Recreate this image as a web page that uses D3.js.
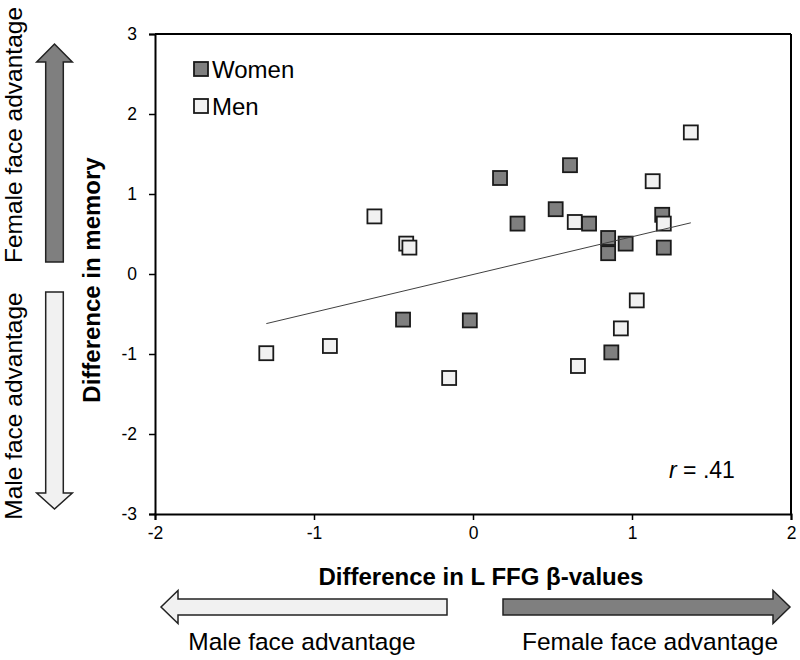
<!DOCTYPE html>
<html>
<head>
<meta charset="utf-8">
<script src="https://cdn.jsdelivr.net/npm/d3@7"></script>
<style>
  html, body { margin: 0; padding: 0; background: #fff; }
  text { font-family: "Liberation Sans", Arial, sans-serif; fill: #000; }
</style>
</head>
<body>
<svg id="chart" width="800" height="660"></svg>
<script>
// ---- data ----
const womenX = [0.17, 0.61, 0.28, 0.52, 0.73, 0.85, 0.85, 0.96, 1.19, 1.20, 0.87, -0.02, -0.44];
const womenY = [1.20, 1.36, 0.63, 0.81, 0.63, 0.45, 0.26, 0.38, 0.74, 0.33, -0.98, -0.58, -0.57];
const menX = [0.64, 1.20, 1.13, 1.37, 1.03, 0.93, 0.66, -1.30, -0.90, -0.15, -0.62, -0.42, -0.40];
const menY = [0.65, 0.63, 1.16, 1.77, -0.33, -0.68, -1.15, -0.99, -0.90, -1.30, 0.72, 0.38, 0.33];
const trendX = [-1.30, 1.37];
const trendY = [-0.62, 0.64];
const xTicks = [-2, -1, 0, 1, 2];
const yTicks = [-3, -2, -1, 0, 1, 2, 3];
const seriesNames = ["Women", "Men"];
const seriesFill = ["#7f7f7f", "#f1f1f1"];
const xTitle = "Difference in L FFG β-values";
const yTitle = "Difference in memory";
const statText = ".41";

// ---- layout ----
const svg = d3.select("#chart");
svg.append("rect").attr("width", 800).attr("height", 660).attr("fill", "#fff");
const L = 155, R = 791, T = 34, B = 514;
const x = d3.scaleLinear().domain([-2, 2]).range([L, R]);
const y = d3.scaleLinear().domain([-3, 3]).range([B, T]);

// frame top/right
svg.append("line").attr("x1", L).attr("x2", R).attr("y1", T).attr("y2", T)
  .attr("stroke", "#000").attr("stroke-width", 2);
svg.append("line").attr("x1", R).attr("x2", R).attr("y1", T).attr("y2", B)
  .attr("stroke", "#000").attr("stroke-width", 2);

// axes
const yAxis = svg.append("g").attr("transform", `translate(${L},0)`)
  .call(d3.axisLeft(y).tickValues(yTicks).tickSize(6).tickPadding(12).tickFormat(d3.format("d")));
const xAxis = svg.append("g").attr("transform", `translate(0,${B})`)
  .call(d3.axisBottom(x).tickValues(xTicks).tickSize(6).tickPadding(7).tickFormat(d3.format("d")));
[xAxis, yAxis].forEach(g => {
  g.select(".domain").attr("stroke", "#000").attr("stroke-width", 2);
  g.selectAll(".tick line").attr("stroke", "#000").attr("stroke-width", 1.5);
  g.selectAll(".tick text").attr("font-size", 17.5).attr("fill", "#000")
    .attr("font-family", '"Liberation Sans", Arial, sans-serif');
});
yAxis.selectAll(".tick text").text(d => d < 0 ? "-" + Math.abs(d) : d);
xAxis.selectAll(".tick text").text(d => d < 0 ? "-" + Math.abs(d) : d);

// points
const sq = 14;
function drawSeries(xs, ys, fill) {
  svg.append("g").selectAll("rect").data(xs.map((v, i) => [v, ys[i]])).join("rect")
    .attr("x", d => x(d[0]) - sq / 2).attr("y", d => y(d[1]) - sq / 2)
    .attr("width", sq).attr("height", sq)
    .attr("fill", fill).attr("stroke", "#1a1a1a").attr("stroke-width", 1.8);
}
// men first, then women, then the one man drawn above in the reference
drawSeries(menX.slice(0, 1).concat(menX.slice(2)), menY.slice(0, 1).concat(menY.slice(2)), seriesFill[1]);
drawSeries(womenX, womenY, seriesFill[0]);
drawSeries(menX.slice(1, 2), menY.slice(1, 2), seriesFill[1]);

// trend line
svg.append("line")
  .attr("x1", x(trendX[0])).attr("y1", y(trendY[0]))
  .attr("x2", x(trendX[1])).attr("y2", y(trendY[1]))
  .attr("stroke", "#404040").attr("stroke-width", 1);

// legend
seriesNames.forEach((name, i) => {
  const cy = 69 + i * 37;
  svg.append("rect").attr("x", 201 - sq / 2).attr("y", cy - sq / 2)
    .attr("width", sq).attr("height", sq)
    .attr("fill", seriesFill[i]).attr("stroke", "#1a1a1a").attr("stroke-width", 1.8);
  svg.append("text").attr("x", 212).attr("y", cy + 8.5)
    .attr("font-size", 24).text(name);
});

// r statistic
const rt = svg.append("text").attr("x", 669).attr("y", 478).attr("font-size", 23);
rt.append("tspan").attr("font-style", "italic").text("r");
rt.append("tspan").text(" = " + statText);

// axis titles
svg.append("text").attr("x", 481).attr("y", 585).attr("text-anchor", "middle")
  .attr("font-size", 24).attr("font-weight", "bold").text(xTitle);
svg.append("text").attr("transform", "translate(100,280) rotate(-90)")
  .attr("text-anchor", "middle").attr("font-size", 24).attr("font-weight", "bold").text(yTitle);

// direction arrows (left)
const arrowStroke = "#222";
function vArrow(cx, yStart, yHeadBase, yTip, fill) {
  const sw = 8.8, hw = 17.8;
  const p = d3.path();
  p.moveTo(cx - sw, yStart); p.lineTo(cx - sw, yHeadBase); p.lineTo(cx - hw, yHeadBase);
  p.lineTo(cx, yTip); p.lineTo(cx + hw, yHeadBase); p.lineTo(cx + sw, yHeadBase);
  p.lineTo(cx + sw, yStart); p.closePath();
  svg.append("path").attr("d", p.toString()).attr("fill", fill)
    .attr("stroke", arrowStroke).attr("stroke-width", 1.5);
}
vArrow(54.5, 262, 62, 44, seriesFill[0]);
vArrow(54.5, 292, 493, 509, seriesFill[1]);

function hArrow(cy, xStart, xHeadBase, xTip, fill) {
  const sw = 8, hw = 16.5;
  const p = d3.path();
  p.moveTo(xStart, cy - sw); p.lineTo(xHeadBase, cy - sw); p.lineTo(xHeadBase, cy - hw);
  p.lineTo(xTip, cy); p.lineTo(xHeadBase, cy + hw); p.lineTo(xHeadBase, cy + sw);
  p.lineTo(xStart, cy + sw); p.closePath();
  svg.append("path").attr("d", p.toString()).attr("fill", fill)
    .attr("stroke", arrowStroke).attr("stroke-width", 1.5);
}
hArrow(607, 447, 178, 161, seriesFill[1]);
hArrow(607, 503, 773, 790, seriesFill[0]);

// direction labels
svg.append("text").attr("transform", "translate(22,135) rotate(-90)")
  .attr("text-anchor", "middle").attr("font-size", 24.5).text("Female face advantage");
svg.append("text").attr("transform", "translate(22,406) rotate(-90)")
  .attr("text-anchor", "middle").attr("font-size", 24.5).text("Male face advantage");
svg.append("text").attr("x", 302).attr("y", 650)
  .attr("text-anchor", "middle").attr("font-size", 24.5).text("Male face advantage");
svg.append("text").attr("x", 650).attr("y", 650)
  .attr("text-anchor", "middle").attr("font-size", 24.5).text("Female face advantage");
</script>
</body>
</html>
